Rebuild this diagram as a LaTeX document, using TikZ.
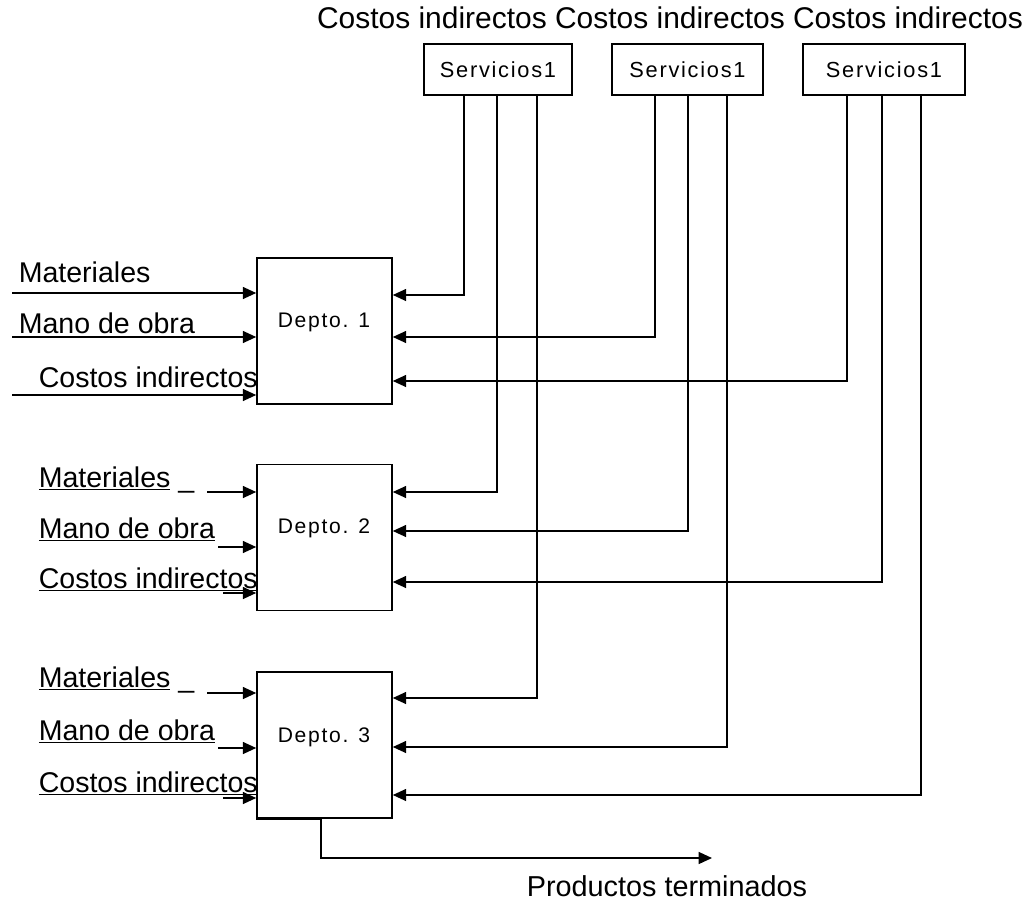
\documentclass[tikz,border=0pt]{standalone}
\usepackage{fontspec}
\setmainfont{Liberation Sans}
\newfontfamily\cajafont[LetterSpace=8]{Liberation Sans}
\usetikzlibrary{arrows.meta}

\begin{document}
\begin{tikzpicture}[x=0.025cm, y=-0.025cm, line width=1.1pt,
    flecha/.style={-{Triangle[length=9.5pt,width=8.5pt]}},
    servicio/.style={draw, minimum height=1.275cm, inner sep=0pt, font=\cajafont\fontsize{15.5}{18}\selectfont},
    depto/.style={draw, minimum width=3.375cm, minimum height=3.65cm, inner sep=0pt},
    deptotexto/.style={font=\cajafont\fontsize{15}{17}\selectfont, inner sep=0pt},
    etiqueta/.style={font=\fontsize{20.3}{24}\selectfont, inner sep=0pt, anchor=base west}]
    \useasboundingbox (0,0) rectangle (1031,901);

    % costos indirectos de servicios
    \node[font=\fontsize{21.3}{25}\selectfont] (ci) at (670,18) {Costos indirectos Costos indirectos Costos indirectos};
    \node[servicio, minimum width=3.7cm] (s1) at (498,69.5) {Servicios1};
    \node[servicio, minimum width=3.775cm] (s2) at (687.5,69.5) {Servicios1};
    \node[servicio, minimum width=4.05cm] (s3) at (884,69.5) {Servicios1};

    % departamentos
    \node[depto] (d1) at (324.5,331) {};
    \node[depto] (d2) at (324.5,537.5) {};
    \node[depto] (d3) at (324.5,745) {};
    \node[deptotexto] (t1) at (324,322) {Depto. 1};
    \node[deptotexto] (t2) at (324,528) {Depto. 2};
    \node[deptotexto] (t3) at (324,737) {Depto. 3};

    % reparto de los servicios
    \foreach \s/\x/\d/\y in {1/464/1/295, 1/497/2/492, 1/537/3/698,
                             2/655/1/337, 2/688/2/531, 2/727/3/747,
                             3/847/1/381, 3/882/2/582, 3/921/3/795}
        \draw[flecha] (s\s.south -| \x,0) |- (d\d.east |- 0,\y);

    % entradas de cada departamento
    \foreach \d/\x/\y in {1/12/293, 1/12/337, 1/12/395,
                          2/207/492, 2/218/547, 2/223/593,
                          3/207/693, 3/218/748, 3/223/798}
        \draw[flecha] (\x,\y) coordinate (e) -- (d\d.west |- e);

    \node[etiqueta] (m1) at (18,282) {Materiales};
    \node[etiqueta] (o1) at (18,333) {Mano de obra};
    \node[etiqueta] (c1) at (38,387) {Costos indirectos};

    \node[etiqueta] (m2) at (38,487) {\underline{Materiales}\ \_};
    \node[etiqueta] (o2) at (38,538) {\underline{Mano de obra}};
    \node[etiqueta] (c2) at (38,588) {\underline{Costos indirectos}};

    \node[etiqueta] (m3) at (38,687) {\underline{Materiales}\ \_};
    \node[etiqueta] (o3) at (38,740) {\underline{Mano de obra}};
    \node[etiqueta] (c3) at (38,792) {\underline{Costos indirectos}};

    % salida
    \draw[line width=2pt] (d3.south west) -- (d3.south -| 321,0);
    \coordinate (fin) at (712,858);
    \draw[flecha] (d3.south -| 321,0) |- (fin);
    \node[font=\fontsize{20.5}{24}\selectfont] (pt) at (667,886) {Productos terminados};
\end{tikzpicture}
\end{document}
